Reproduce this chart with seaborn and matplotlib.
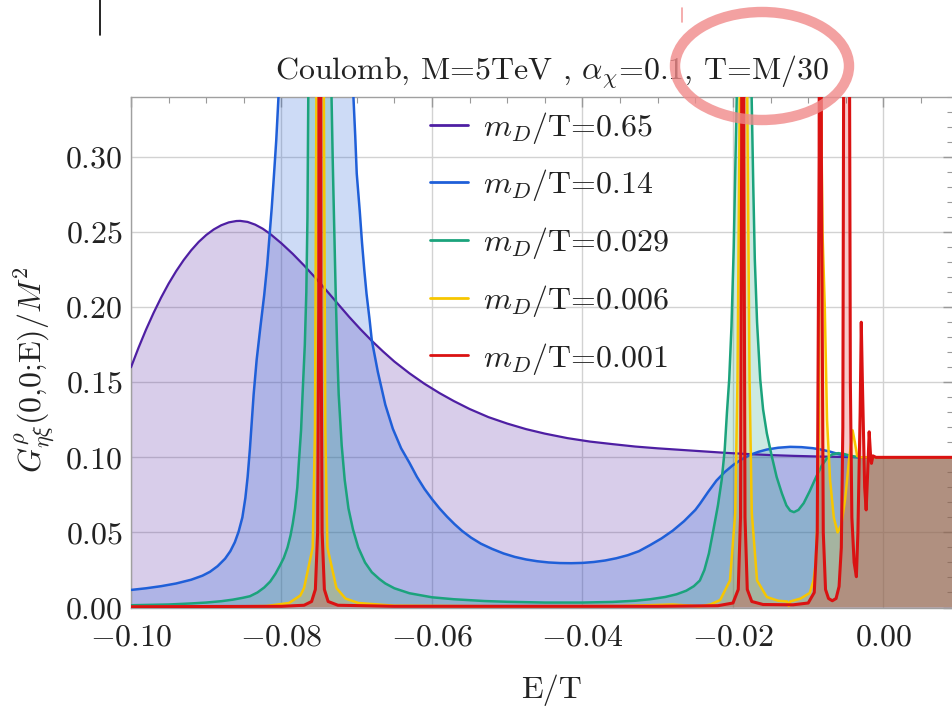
import matplotlib
matplotlib.use("Agg")
import matplotlib.pyplot as plt
import seaborn as sns
from matplotlib.patches import Ellipse
from matplotlib.lines import Line2D
from matplotlib.ticker import MultipleLocator

# ---------------- data ----------------
LABELS = [r"$m_D$/T=0.65", r"$m_D$/T=0.14", r"$m_D$/T=0.029",
          r"$m_D$/T=0.006", r"$m_D$/T=0.001"]
COLORS = ["#4E1FA3", "#1F5FD8", "#1BA37C", "#F7C600", "#DA1212"]

PURPLE_X = [-0.100, -0.099, -0.098, -0.097, -0.096, -0.095, -0.094, -0.093,
            -0.092, -0.091, -0.090, -0.089, -0.088, -0.087, -0.086, -0.0855,
            -0.0845, -0.0835, -0.0825, -0.0815, -0.0800, -0.0785, -0.0770,
            -0.0755, -0.0740, -0.0725, -0.0710, -0.0695, -0.0680, -0.0665,
            -0.0650, -0.0630, -0.0610, -0.0590, -0.0571, -0.0550, -0.0525,
            -0.0500, -0.0475, -0.0450, -0.0420, -0.0390, -0.0360, -0.0330,
            -0.0300, -0.0270, -0.0240, -0.0210, -0.0180, -0.0150, -0.0120,
            -0.0090, -0.0060, -0.0030, 0.0000, 0.0095]
PURPLE_Y = [0.1600, 0.1730, 0.1851, 0.1962, 0.2064, 0.2157, 0.2240, 0.2314,
            0.2379, 0.2435, 0.2481, 0.2518, 0.2546, 0.2565, 0.2574, 0.2575,
            0.2568, 0.2550, 0.2523, 0.2488, 0.2425, 0.2355, 0.2278,
            0.2196, 0.2110, 0.2022, 0.1935, 0.1853, 0.1776, 0.1705,
            0.1638, 0.1560, 0.1490, 0.1428, 0.1375, 0.1322, 0.1268,
            0.1225, 0.1188, 0.1158, 0.1128, 0.1105, 0.1088, 0.1072,
            0.1060, 0.1050, 0.1040, 0.1030, 0.1022, 0.1015, 0.1010,
            0.1006, 0.1003, 0.1001, 0.1000, 0.1000]

BLUE_X = [-0.100, -0.098, -0.096, -0.094, -0.092, -0.0905, -0.0895, -0.0885,
          -0.0875, -0.0868, -0.0862, -0.0857, -0.0852, -0.0848, -0.0845,
          -0.0842, -0.0837, -0.0833, -0.0828, -0.0823, -0.0819, -0.0816,
          -0.0813, -0.0810, -0.0807, -0.0804, -0.0800, -0.0790, -0.0775,
          -0.0755, -0.0735, -0.0720, -0.0712, -0.07044, -0.0702, -0.0700,
          -0.0696, -0.0693, -0.0690, -0.0687, -0.0683, -0.0680, -0.0672,
          -0.0662, -0.0652, -0.0641, -0.0630, -0.0620, -0.0610, -0.0600,
          -0.0590, -0.0580, -0.0570, -0.0560, -0.0548, -0.0535, -0.0520,
          -0.0505, -0.0490, -0.0475, -0.0460, -0.0445, -0.0430, -0.0415,
          -0.0400, -0.0385, -0.0370, -0.0355, -0.0340, -0.0325, -0.0310,
          -0.0295, -0.0280, -0.0265, -0.0250, -0.0244, -0.0233, -0.0222,
          -0.0211, -0.0200, -0.0189, -0.0177, -0.0166, -0.0155, -0.0140,
          -0.0124, -0.0109, -0.0094, -0.0082, -0.0071, -0.0062, -0.0053,
          -0.0045, -0.0035, -0.0020, 0.0095]
BLUE_Y = [0.0117, 0.0128, 0.0142, 0.0160, 0.0185, 0.0212, 0.0238, 0.0275,
          0.0325, 0.0375, 0.0435, 0.0505, 0.0600, 0.0730, 0.0870,
          0.1055, 0.1420, 0.1650, 0.1870, 0.2080, 0.2280, 0.2470,
          0.2660, 0.2880, 0.3110, 0.3400, 0.3750, 0.4400, 0.5100,
          0.5500, 0.5100, 0.4400, 0.3900, 0.3400, 0.3140, 0.2890,
          0.2640, 0.2430, 0.2250, 0.2090, 0.1920, 0.1780, 0.1570,
          0.1350, 0.1190, 0.1060, 0.0964, 0.0870, 0.0790, 0.0722,
          0.0660, 0.0605, 0.0555, 0.0510, 0.0465, 0.0425, 0.0390,
          0.0360, 0.0337, 0.0320, 0.0308, 0.0300, 0.0296, 0.0295,
          0.0297, 0.0303, 0.0313, 0.0328, 0.0348, 0.0375, 0.0416,
          0.0460, 0.0512, 0.0575, 0.0650, 0.0690, 0.0770, 0.0845,
          0.0902, 0.0948, 0.0985, 0.1017, 0.1037, 0.1052, 0.1064,
          0.1070, 0.1068, 0.1061, 0.1051, 0.1038, 0.1025, 0.1013,
          0.1005, 0.1001, 0.1000, 0.1000]

GREEN_X = [-0.100, -0.095, -0.092, -0.090, -0.088, -0.0865, -0.0852, -0.0842,
           -0.0832, -0.0823, -0.0815, -0.0808, -0.0802, -0.0797, -0.0792,
           -0.0788, -0.0785, -0.0782, -0.0779, -0.0777, -0.0774, -0.0772,
           -0.0769, -0.0767, -0.07655, -0.07644, -0.0760, -0.0755, -0.0749,
           -0.0743, -0.0738, -0.07335, -0.0732, -0.0731, -0.0728, -0.0726,
           -0.0724, -0.0720, -0.0716, -0.0711, -0.0705, -0.0698, -0.0689,
           -0.0680, -0.0670, -0.0662, -0.0650, -0.0630, -0.0600, -0.0571,
           -0.0530, -0.050, -0.045, -0.040, -0.036, -0.033, -0.031, -0.029,
           -0.0275, -0.0262, -0.0252, -0.0244, -0.0238, -0.0232, -0.0226,
           -0.0220, -0.0215, -0.0211, -0.0208, -0.0205, -0.0202, -0.0199,
           -0.0197, -0.0195, -0.0191, -0.0186, -0.0181, -0.0178, -0.01752,
           -0.0173, -0.0171, -0.0168, -0.01638, -0.0160, -0.0155, -0.0149,
           -0.0142, -0.0135, -0.0129, -0.0124, -0.0119, -0.0113, -0.0106,
           -0.0098, -0.0089, -0.0082, -0.0075, -0.0068, -0.0060, -0.0052,
           -0.0045, -0.0037, -0.0030, 0.0095]
GREEN_Y = [0.0015, 0.0020, 0.0027, 0.0033, 0.0042, 0.0052, 0.0064, 0.0075,
           0.0100, 0.0133, 0.0173, 0.0225, 0.0280, 0.0330, 0.0400,
           0.0480, 0.0560, 0.0660, 0.0800, 0.0960, 0.1180, 0.1420,
           0.1750, 0.2100, 0.2600, 0.3400, 0.5000, 0.6500, 0.7500,
           0.6500, 0.5000, 0.3400, 0.3000, 0.2770, 0.2100, 0.1720,
           0.1420, 0.1080, 0.0850, 0.0660, 0.0520, 0.0400, 0.0300,
           0.0235, 0.0190, 0.0160, 0.0128, 0.0095, 0.0068, 0.0055,
           0.0043, 0.0038, 0.0033, 0.0033, 0.0037, 0.0045, 0.0055, 0.0070,
           0.0088, 0.0112, 0.0142, 0.0180, 0.0250, 0.0360, 0.0517,
           0.0680, 0.0850, 0.1050, 0.1300, 0.1520, 0.1870, 0.2400,
           0.2900, 0.3400, 0.5000, 0.6500, 0.5000, 0.3800, 0.3400,
           0.2800, 0.2320, 0.1900, 0.1520, 0.1320, 0.1160, 0.1020,
           0.0870, 0.0760, 0.0680, 0.0645, 0.0635, 0.0650, 0.0695,
           0.0775, 0.0875, 0.0945, 0.0995, 0.1020, 0.1028, 0.1022,
           0.1012, 0.1004, 0.1000, 0.1000]

YELLOW_X = [-0.100, -0.090, -0.082, -0.079, -0.0775, -0.0770, -0.07585,
            -0.07555, -0.07536, -0.0751, -0.0749, -0.0747, -0.07437, -0.07418,
            -0.0739, -0.0727, -0.0715, -0.0698, -0.065, -0.050, -0.035, -0.028,
            -0.0244, -0.0230, -0.0217, -0.0204, -0.0197, -0.0194, -0.0191,
            -0.0188, -0.0186, -0.0184, -0.0181, -0.0178, -0.0175, -0.0168,
            -0.0155, -0.0140, -0.0128, -0.0126, -0.0124, -0.0110, -0.0098,
            -0.0093, -0.0090, -0.0088, -0.0086, -0.0085, -0.0084, -0.0083,
            -0.0081, -0.0078, -0.0075, -0.0071, -0.0066, -0.0061, -0.0056,
            -0.0051, -0.0046, -0.0041, -0.0038, -0.0035, -0.0030, 0.0095]
YELLOW_Y = [0.0003, 0.0005, 0.001, 0.003, 0.008, 0.013, 0.040,
            0.119, 0.34, 0.70, 0.90, 0.70, 0.34, 0.119,
            0.040, 0.013, 0.006, 0.003, 0.0012, 0.0008, 0.001, 0.002,
            0.0008, 0.002, 0.005, 0.018, 0.063, 0.152, 0.34,
            0.70, 0.90, 0.70, 0.34, 0.152, 0.063, 0.018,
            0.007, 0.0045, 0.0040, 0.0010, 0.0040, 0.0060, 0.0097,
            0.018, 0.030, 0.055, 0.12, 0.34, 0.90, 0.34,
            0.25, 0.20, 0.125, 0.085, 0.060, 0.050, 0.055,
            0.072, 0.097, 0.118, 0.110, 0.101, 0.100, 0.100]

RED_X = [-0.100, -0.080, -0.077, -0.0760, -0.0755, -0.0752, -0.07505,
         -0.0750, -0.0749, -0.0748, -0.07475, -0.0746, -0.0743, -0.0738,
         -0.0725, -0.065, -0.030, -0.022, -0.0200, -0.0193, -0.0190, -0.01885,
         -0.0187, -0.01855, -0.0184, -0.0181, -0.0175, -0.016, -0.012, -0.010,
         -0.0092, -0.0088, -0.00855, -0.0084, -0.00825, -0.0080, -0.0077,
         -0.0073, -0.0068, -0.0063, -0.0059, -0.0056, -0.0054, -0.0053,
         -0.0049, -0.0045, -0.0044, -0.0042, -0.0039, -0.0036, -0.0034,
         -0.0031, -0.00295, -0.0028, -0.0025, -0.0023, -0.0021, -0.0019,
         -0.0017, -0.0016, -0.0014, -0.0010, 0.0095]
RED_Y = [0.0005, 0.0008, 0.0015, 0.004, 0.012, 0.05, 0.2,
         0.5, 1.0, 0.5, 0.2, 0.05, 0.012, 0.004,
         0.0015, 0.0008, 0.0008, 0.0012, 0.003, 0.012, 0.06, 0.3,
         1.0, 0.3, 0.06, 0.012, 0.004, 0.002, 0.0018, 0.003,
         0.01, 0.05, 0.3, 1.0, 0.3, 0.05, 0.012,
         0.006, 0.0045, 0.006, 0.014, 0.04, 0.12, 0.34,
         1.0, 0.34, 0.15, 0.06, 0.03, 0.0205, 0.05,
         0.13, 0.19, 0.15, 0.08, 0.065, 0.09, 0.117,
         0.100, 0.096, 0.101, 0.100, 0.100]

SERIES = [(PURPLE_X, PURPLE_Y), (BLUE_X, BLUE_Y), (GREEN_X, GREEN_Y),
          (YELLOW_X, YELLOW_Y), (RED_X, RED_Y)]
LINEWIDTHS = [1.6, 1.8, 1.8, 1.8, 2.2]

XTICKS = [-0.10, -0.08, -0.06, -0.04, -0.02, 0.00]
XTICKLABELS = [r"$-0.10$", r"$-0.08$", r"$-0.06$", r"$-0.04$", r"$-0.02$", r"$0.00$"]
YTICKS = [0.00, 0.05, 0.10, 0.15, 0.20, 0.25, 0.30]
YTICKLABELS = [r"$0.00$", r"$0.05$", r"$0.10$", r"$0.15$", r"$0.20$", r"$0.25$", r"$0.30$"]
TITLE = r"Coulomb, M=5TeV , $\alpha_\chi$=0.1, T=M/30"
XLABEL = "E/T"
YLABEL = r"$G^{\rho}_{\eta\xi}$(0,0;E)/$M^2$"

# ---------------- style ----------------
sns.set_theme(style="white")
plt.rcParams['font.family'] = ['cmr10', 'DejaVu Serif']
plt.rcParams['mathtext.fontset'] = 'cm'
plt.rcParams['axes.formatter.use_mathtext'] = True
FS = 23

fig = plt.figure(figsize=(9.53, 7.14), dpi=100)
ax = fig.add_axes([131 / 953, 1 - 607.5 / 714, 822 / 953, 510.5 / 714])

for (xs, ys), col in zip(SERIES, COLORS):
    ax.fill_between(xs, 0, ys, color=col, alpha=0.22, linewidth=0, zorder=1)
for (xs, ys), col, lab, lw in zip(SERIES, COLORS, LABELS, LINEWIDTHS):
    sns.lineplot(x=xs, y=ys, ax=ax, color=col, linewidth=lw, label=lab,
                 estimator=None, sort=False, zorder=3)

ax.set_xlim(-0.10, 0.00924)
ax.set_ylim(0.0, 0.34)
ax.set_xticks(XTICKS)
ax.set_xticklabels(XTICKLABELS, fontsize=FS, color="#222222")
ax.set_yticks(YTICKS)
ax.set_yticklabels(YTICKLABELS, fontsize=FS, color="#222222")
ax.xaxis.set_minor_locator(MultipleLocator(0.005))
ax.yaxis.set_minor_locator(MultipleLocator(0.01))
ax.tick_params(which='both', direction='in', top=True, right=True, color="#999999")
ax.tick_params(which='major', length=7, width=1)
ax.tick_params(which='minor', length=4, width=0.8)
ax.tick_params(axis='x', which='major', pad=12)
ax.tick_params(axis='y', which='major', pad=6)
ax.grid(True, which='major', color="#D2D2D2", linewidth=1)
ax.set_axisbelow(True)
for side in ["left", "bottom", "top"]:
    ax.spines[side].set_color("#A0A0A0")
    ax.spines[side].set_linewidth(1)
ax.spines["right"].set_visible(False)

ax.set_xlabel(XLABEL, fontsize=FS, color="#222222")
ax.xaxis.set_label_coords((552 - 131) / 822, (607.5 - 690) / 510.5)
ax.xaxis.label.set_va('center')
ax.set_ylabel(YLABEL, fontsize=FS, color="#222222")
ax.yaxis.set_label_coords((35 - 131) / 822, (607.5 - 370) / 510.5)
ax.yaxis.label.set_va('center')

fig.text(552 / 953, 1 - 72 / 714, TITLE, fontsize=FS, ha='center', va='center',
         color="#222222")

leg = ax.legend(frameon=False, loc='upper left', bbox_to_anchor=(0.3637, 0.975),
                borderaxespad=0, borderpad=0, handlelength=1.2, handletextpad=0.45,
                labelspacing=0.68, fontsize=FS)
for t in leg.get_texts():
    t.set_color("#222222")
for h in leg.get_lines():
    h.set_linewidth(2)

# screenshot annotations
fig.add_artist(Ellipse((762 / 953, 1 - 66 / 714), 174 / 953, 108 / 714,
                       transform=fig.transFigure, fill=False, ec="#F08A8A",
                       lw=7.5, alpha=0.8, zorder=10))
fig.add_artist(Line2D([100 / 953, 100 / 953], [1.0, 1 - 35 / 714],
                      transform=fig.transFigure, color="black", lw=1.2))
fig.add_artist(Line2D([682 / 953, 682 / 953], [1 - 8 / 714, 1 - 22 / 714],
                      transform=fig.transFigure, color="#F4A0A0", lw=1.2))

fig.savefig("out.png", dpi=100)
